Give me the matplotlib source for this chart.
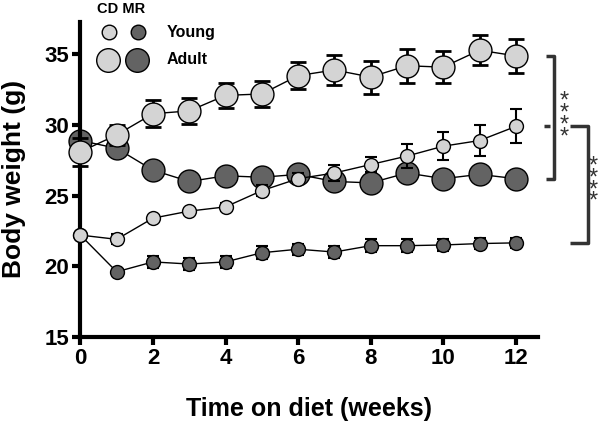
import matplotlib
matplotlib.use("Agg")
import matplotlib.pyplot as plt
import numpy as np

plt.rcParams['font.family'] = ['Liberation Sans', 'DejaVu Sans']

weeks = list(range(13))
adult_cd = [28.1, 29.3, 30.8, 31.0, 32.1, 32.2, 33.5, 33.9, 33.4, 34.2, 34.1, 35.3, 34.9]
adult_cd_err = [1.0, 0.7, 0.95, 0.9, 0.9, 0.93, 0.97, 1.05, 1.17, 1.2, 1.12, 1.08, 1.2]
adult_mr = [28.9, 28.35, 26.8, 26.0, 26.4, 26.3, 26.5, 26.0, 25.9, 26.6, 26.2, 26.5, 26.2]
adult_mr_err = [0.3, 0.4, 0.2, 0.2, 0.2, 0.2, 0.2, 0.4, 0.5, 0.4, 0.2, 0.2, 0.2]
young_cd = [22.2, 21.9, 23.4, 23.9, 24.2, 25.35, 26.2, 26.6, 27.2, 27.8, 28.5, 28.9, 29.9]
young_cd_err = [0.15, 0.35, 0.15, 0.15, 0.3, 0.4, 0.4, 0.6, 0.55, 0.85, 0.97, 1.13, 1.2]
young_mr = [22.2, 19.6, 20.3, 20.15, 20.3, 20.95, 21.2, 21.0, 21.45, 21.45, 21.5, 21.6, 21.65]
young_mr_err = [0.1, 0.1, 0.45, 0.45, 0.45, 0.45, 0.4, 0.4, 0.45, 0.45, 0.45, 0.4, 0.35]

light = '#d4d4d4'
dark = '#636363'

fig = plt.figure(figsize=(6, 4.23), dpi=100)
ax = fig.add_axes([0.134, 0.204, 0.762, 0.744])

def series(y, e, color, ms, capsize, elw, z):
    ax.errorbar(weeks, y, yerr=e, fmt='none', ecolor='black', elinewidth=elw,
                capsize=capsize, capthick=elw, zorder=z, clip_on=False)
    ax.plot(weeks, y, '-', color='black', lw=1.0, zorder=z + 0.1, clip_on=False)
    ax.plot(weeks, y, 'o', markerfacecolor=color, markeredgecolor='black',
            markeredgewidth=1.0, markersize=ms, linestyle='none', zorder=z + 0.2, clip_on=False)

series(adult_mr, adult_mr_err, dark, 16.5, 5.5, 2.0, 2)
series(adult_cd, adult_cd_err, light, 16.5, 5.5, 2.0, 3)
series(young_mr, young_mr_err, dark, 10, 4, 1.5, 4)
series(young_cd, young_cd_err, light, 10, 4, 1.5, 5)

ax.set_xlim(0, 12.6)
ax.set_ylim(15, 37.3)
ax.set_xticks([0, 2, 4, 6, 8, 10, 12])
ax.set_yticks([15, 20, 25, 30, 35])
for s in ['top', 'right']:
    ax.spines[s].set_visible(False)
for s in ['left', 'bottom']:
    ax.spines[s].set_linewidth(3)
ax.tick_params(width=3, length=6, labelsize=16, pad=2)
for lab in ax.get_xticklabels() + ax.get_yticklabels():
    lab.set_fontweight('bold')
ax.set_xlabel('Time on diet (weeks)', fontsize=18, fontweight='bold')
ax.set_ylabel('Body weight (g)', fontsize=19, fontweight='bold')
ax.xaxis.set_label_coords(0.5, -0.19)
ax.yaxis.set_label_coords(-0.118, 0.5)

# significance brackets
bc = '#333333'
kw = dict(color=bc, lw=2.5, clip_on=False, solid_capstyle='butt')
ax.plot([12.84, 13.06, 13.06, 12.84], [adult_cd[-1], adult_cd[-1], adult_mr[-1], adult_mr[-1]], **kw)
ax.plot([12.79, 12.95], [young_cd[-1], young_cd[-1]], **kw)
ax.plot([13.49, 13.98, 13.98, 13.49], [young_cd[-1], young_cd[-1], young_mr[-1], young_mr[-1]], **kw)
ax.text(13.34, 30.4, '*\n*\n*\n*', ha='center', va='center', linespacing=0.4,
        fontsize=17, color=bc, clip_on=False)
ax.text(14.14, 25.8, '*\n*\n*\n*', ha='center', va='center', linespacing=0.4,
        fontsize=17, color=bc, clip_on=False)

# legend drawn in figure coords
fig.text(97 / 600, 1 - 9 / 423, 'CD MR', fontsize=10.5, fontweight='bold', ha='left', va='center')
for xp, yp, ms, c in [(109, 32, 10.5, light), (138, 32, 10.5, dark),
                      (108, 60, 17, light), (137, 60, 17, dark)]:
    fig.lines.append(plt.Line2D([xp / 600], [1 - yp / 423], marker='o', markersize=ms,
                                markerfacecolor=c, markeredgecolor='black', transform=fig.transFigure))
fig.text(167 / 600, 1 - 32 / 423, 'Young', fontsize=11.5, fontweight='bold', ha='left', va='center')
fig.text(167 / 600, 1 - 60 / 423, 'Adult', fontsize=11.5, fontweight='bold', ha='left', va='center')

fig.savefig('out.png', dpi=100)
